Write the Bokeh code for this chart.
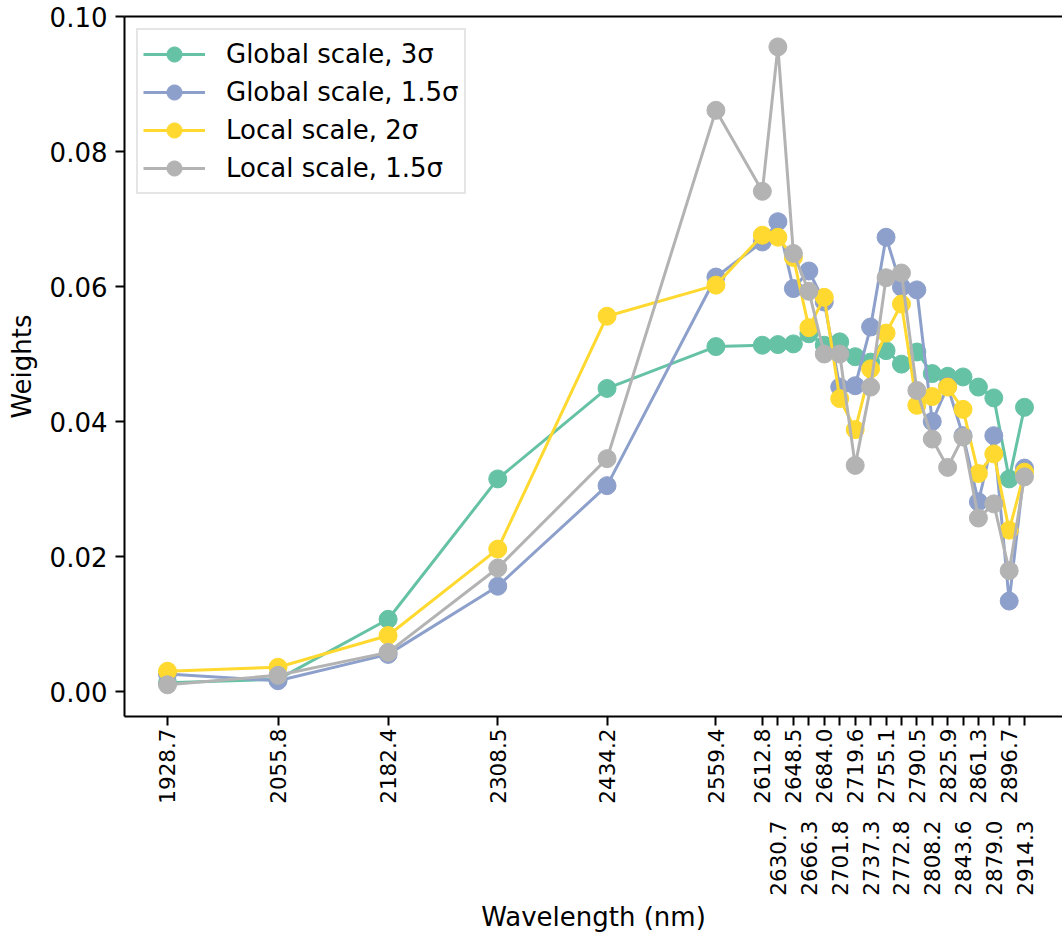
import math
from bokeh.plotting import figure
from bokeh.models import (Range1d, FixedTicker, LinearAxis, Legend, LegendItem,
                          NumeralTickFormatter, ColumnDataSource)
from bokeh.embed import file_html
from bokeh.resources import INLINE

# ---------------- data ----------------
wavelengths = [1928.7, 2055.8, 2182.4, 2308.5, 2434.2, 2559.4, 2612.8, 2630.7,
               2648.5, 2666.3, 2684.0, 2701.8, 2719.6, 2737.3, 2755.1, 2772.8,
               2790.5, 2808.2, 2825.9, 2843.6, 2861.3, 2879.0, 2896.7, 2914.3]
tick_labels = ["1928.7", "2055.8", "2182.4", "2308.5", "2434.2", "2559.4", "2612.8", "2630.7",
               "2648.5", "2666.3", "2684.0", "2701.8", "2719.6", "2737.3", "2755.1", "2772.8",
               "2790.5", "2808.2", "2825.9", "2843.6", "2861.3", "2879.0", "2896.7", "2914.3"]
# labels drawn on the lower (second) row
second_row = ["2630.7", "2666.3", "2701.8", "2737.3", "2772.8", "2808.2", "2843.6", "2879.0", "2914.3"]

global_3s = [0.0013, 0.0018, 0.0107, 0.0315, 0.0449, 0.0511, 0.0513, 0.0514,
             0.0515, 0.0530, 0.0513, 0.0518, 0.0496, 0.0488, 0.0505, 0.0485,
             0.0503, 0.0471, 0.0467, 0.0466, 0.0451, 0.0435, 0.0315, 0.0421]
global_15s = [0.0026, 0.0016, 0.0055, 0.0156, 0.0305, 0.0614, 0.0666, 0.0696,
              0.0597, 0.0623, 0.0577, 0.0451, 0.0453, 0.0540, 0.0673, 0.0599,
              0.0595, 0.0400, 0.0452, 0.0379, 0.0281, 0.0379, 0.0134, 0.0331]
local_2s = [0.0030, 0.0036, 0.0083, 0.0211, 0.0556, 0.0602, 0.0676, 0.0673,
            0.0643, 0.0539, 0.0584, 0.0434, 0.0388, 0.0478, 0.0531, 0.0574,
            0.0424, 0.0437, 0.0451, 0.0418, 0.0323, 0.0352, 0.0239, 0.0325]
local_15s = [0.0010, 0.0024, 0.0058, 0.0183, 0.0345, 0.0861, 0.0741, 0.0955,
             0.0649, 0.0593, 0.0500, 0.0500, 0.0335, 0.0451, 0.0613, 0.0620,
             0.0446, 0.0374, 0.0332, 0.0377, 0.0257, 0.0278, 0.0179, 0.0318]

series_names = ["Global scale, 3σ", "Global scale, 1.5σ", "Local scale, 2σ", "Local scale, 1.5σ"]
series_values = [global_3s, global_15s, local_2s, local_15s]
series_colors = ["#66c2a5", "#8da0cb", "#ffd92f", "#b3b3b3"]

y_ticks = [0.0, 0.02, 0.04, 0.06, 0.08, 0.10]

FONT = "DejaVu Sans"
INK = "black"

# ---------------- figure ----------------
p = figure(width=1062, height=935, output_backend="svg", toolbar_location=None,
           x_range=Range1d(1879.25, 2958.0), y_range=Range1d(-0.0037, 0.1000),
           min_border_left=124, min_border_top=16, min_border_right=0,
           min_border_bottom=219)
p.outline_line_color = None
p.xgrid.visible = False
p.ygrid.visible = False
p.background_fill_color = "white"
p.border_fill_color = "white"

# y axis
ya = p.yaxis[0]
ya.ticker = FixedTicker(ticks=y_ticks)
ya.formatter = NumeralTickFormatter(format="0.00")
ya.axis_label = "Weights"
ya.axis_label_text_font = FONT
ya.axis_label_text_font_size = "26px"
ya.axis_label_text_font_style = "normal"
ya.axis_label_text_color = INK
ya.axis_label_standoff = 10
ya.major_label_text_font = FONT
ya.major_label_text_font_size = "26px"
ya.major_label_text_color = INK
ya.major_label_standoff = 8
ya.major_tick_out = 9
ya.major_tick_in = 0
ya.minor_tick_line_color = None
ya.axis_line_width = 2
ya.major_tick_line_width = 2
ya.axis_line_color = INK
ya.major_tick_line_color = INK

# x axis, first row of labels (with ticks)
row1 = {w: (lab if lab not in second_row else "") for w, lab in zip(wavelengths, tick_labels)}
row2 = {w: (lab if lab in second_row else "") for w, lab in zip(wavelengths, tick_labels)}

xa = p.xaxis[0]
xa.ticker = FixedTicker(ticks=wavelengths)
xa.major_label_overrides = row1
xa.major_label_orientation = math.pi / 2
xa.major_label_text_font = FONT
xa.major_label_text_font_size = "21.5px"
xa.major_label_text_color = INK
xa.major_label_standoff = 3
xa.major_tick_out = 9
xa.major_tick_in = 0
xa.minor_tick_line_color = None
xa.axis_line_width = 2
xa.major_tick_line_width = 2
xa.axis_line_color = INK
xa.major_tick_line_color = INK

# x axis, second row of labels (no ticks, no line) + axis label
xb = LinearAxis(ticker=FixedTicker(ticks=wavelengths), major_label_overrides=row2,
                major_label_orientation=math.pi / 2, major_label_text_font=FONT,
                major_label_text_font_size="21.5px", major_label_text_color=INK,
                major_label_standoff=14,
                major_tick_out=0, major_tick_in=0, major_tick_line_color=None,
                minor_tick_line_color=None, axis_line_color=None,
                axis_label="Wavelength (nm)", axis_label_text_font=FONT,
                axis_label_text_font_size="26px", axis_label_text_font_style="normal",
                axis_label_text_color=INK, axis_label_standoff=3)
p.add_layout(xb, "below")

# top spine
top = LinearAxis(ticker=FixedTicker(ticks=[]), major_label_text_font_size="0px",
                 major_tick_line_color=None, minor_tick_line_color=None,
                 axis_line_width=2, axis_line_color=INK, major_label_standoff=0)
p.add_layout(top, "above")

# ---------------- series ----------------
items = []
for name, vals, col in zip(series_names, series_values, series_colors):
    src = ColumnDataSource(data=dict(x=wavelengths, y=vals))
    ln = p.line("x", "y", source=src, line_color=col, line_width=3)
    sc = p.scatter("x", "y", source=src, size=18, marker="circle",
                   fill_color=col, line_color=col)
    items.append(LegendItem(label=name, renderers=[ln, sc]))

legend = Legend(items=items, location="top_left", margin=12, padding=5,
                spacing=0, glyph_width=62, glyph_height=38, label_height=30,
                label_standoff=21, label_text_font=FONT, label_text_font_size="26px",
                label_text_color=INK,
                border_line_color="#cccccc", border_line_width=2,
                background_fill_color="white", background_fill_alpha=0.8)
p.add_layout(legend)

open("out.html", "w").write(file_html(p, INLINE))
